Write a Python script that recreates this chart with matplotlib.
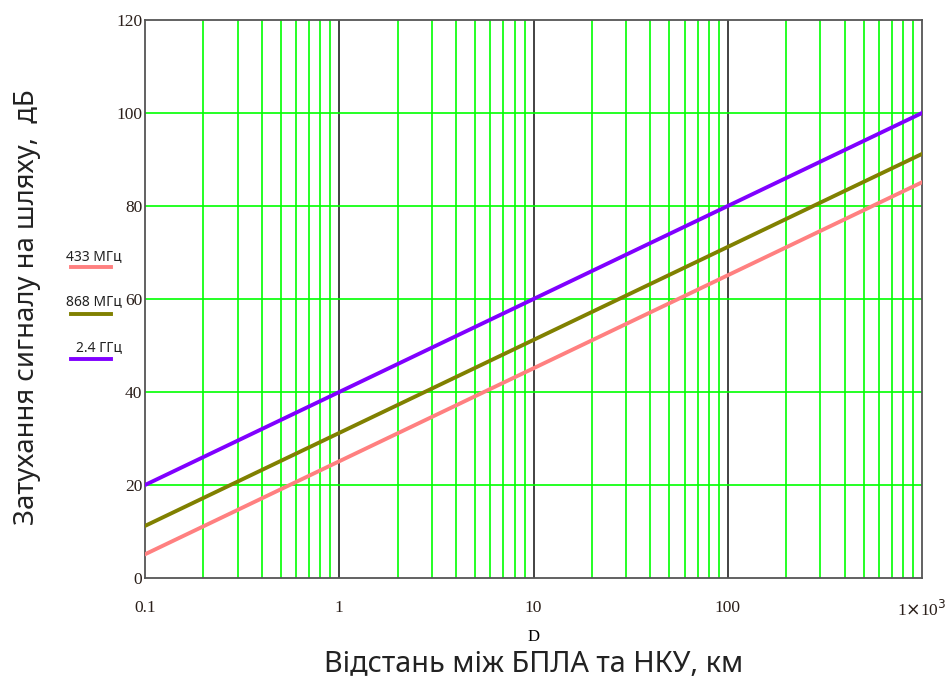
import numpy as np
import matplotlib.pyplot as plt
from matplotlib.lines import Line2D

# distance, km and path loss, dB
D = [0.1, 1, 10, 100, 1000]
L_433 = [5.1, 25.1, 45.1, 65.1, 85.1]
L_868 = [11.2, 31.2, 51.2, 71.2, 91.2]
L_2400 = [20.0, 40.0, 60.0, 80.0, 100.0]
names = ['433 МГц', '868 МГц', '2.4 ГГц']
colors = ['#ff8080', '#808000', '#8000ff']

x_ticks = [0.1, 1, 10, 100, 1000]
x_labels = ['0.1', '1', '10', '100', r'1$\times$10$^3$']
y_ticks = [0, 20, 40, 60, 80, 100, 120]

fig = plt.figure(figsize=(9.52, 6.86), dpi=100)
ax = fig.add_axes([145/952, 1-578/686, (922-145)/952, (578-20)/686])

ax.set_xscale('log')
ax.set_xlim(0.1, 1000)
ax.set_ylim(0, 120)

# grid: green minor, black decades
for dec in [0.1, 1, 10, 100]:
    for k in range(2, 10):
        ax.axvline(dec*k, color='#00ff00', lw=1.2, zorder=1)
for v in [1, 10, 100]:
    ax.axvline(v, color='#222222', lw=1.2, zorder=1)
for v in y_ticks[1:-1]:
    ax.axhline(v, color='#00ff00', lw=1.2, zorder=1)

for y, c in zip([L_433, L_868, L_2400], colors):
    ax.plot(D, y, color=c, lw=2.8, zorder=3)

ax.set_xticks(x_ticks)
ax.set_xticklabels(x_labels)
ax.set_xticks([], minor=True)
ax.set_yticks(y_ticks)
ax.tick_params(length=0, labelsize=12.5, colors='#2a1f1a')
ax.tick_params(axis='x', pad=16)
ax.tick_params(axis='y', pad=2)
for lab in ax.get_xticklabels() + ax.get_yticklabels():
    lab.set_family('Liberation Serif')
for s in ax.spines.values():
    s.set_color('#555555')
    s.set_linewidth(1.3)

ax.set_xlabel('D', family='Liberation Serif', fontsize=12, labelpad=6)
fig.text(534/952, 1-665/686, 'Відстань між БПЛА та НКУ, км', ha='center', va='center',
         fontsize=20.8, family='Noto Sans', color='#222222')
fig.text(27/952, 1-307/686, 'Затухання сигналу на шляху,  дБ', ha='center', va='center',
         rotation=90, fontsize=19.8, family='Noto Sans', color='#222222')

# legend at left
leg_txt_y = [257, 302, 348]
leg_line_y = [267, 314, 359]
for n, c, ty, ly in zip(names, colors, leg_txt_y, leg_line_y):
    fig.text(122/952, 1-ty/686, n, ha='right', va='center', fontsize=10,
             family='Noto Sans', color='#222222')
    fig.add_artist(Line2D([71/952, 111/952], [1-ly/686, 1-ly/686], color=c, lw=2.8))

fig.savefig('out.png', dpi=100)
